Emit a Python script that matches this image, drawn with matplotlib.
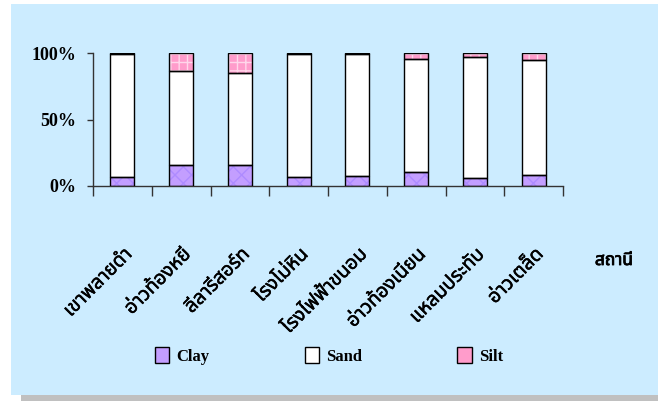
import matplotlib
matplotlib.use('Agg')

import numpy as np
import matplotlib.pyplot as plt
import matplotlib.patheffects as pe
from matplotlib import font_manager, ft2font
from matplotlib.patches import Rectangle, Patch

# station names and composition (%) of sediment
stations = ['เขาพลายดำ', 'อ่าวท้องหยี', 'ลีลารีสอร์ท', 'โรงโม่หิน',
            'โรงไฟฟ้าขนอม', 'อ่าวท้องเนียน', 'แหลมประทับ', 'อ่าวเตล็ด']
clay = [6.6, 15.6, 15.6, 6.6, 7.5, 10.6, 6.3, 8.6]
sand = [92.4, 70.8, 69.7, 92.4, 91.5, 85.1, 90.9, 86.3]
silt = [1.0, 13.6, 14.7, 1.0, 1.0, 4.3, 2.8, 5.1]
yticks = [0, 50, 100]
ytick_labels = ['0%', '50%', '100%']


def find_thai_font():
    """look for any installed font that has thai glyphs"""
    prefer = ['Noto Sans Thai', 'Loma', 'Garuda', 'Norasi', 'Kinnari',
              'Tlwg Typo', 'Sawasdee', 'Umpush', 'Waree', 'Laksaman']
    found = []
    for f in font_manager.fontManager.ttflist:
        try:
            cmap = ft2font.FT2Font(f.fname).get_charmap()
        except Exception:
            continue
        if 0x0E01 in cmap:
            found.append(f.name)
    for p in prefer:
        if p in found:
            return p
    if found:
        return found[0]
    return 'DejaVu Sans'


thai_font = find_thai_font()
serif = 'Liberation Serif'
# slight fake bold for the thai text
thick = [pe.withStroke(linewidth=0.35, foreground='black')]

clay_fill, clay_hatch = '#C39EFF', '#AE8BFF'
silt_fill, silt_hatch = '#FF9CCB', '#FFD6EA'

fig = plt.figure(figsize=(6.58, 4.01), dpi=100)
fig.patch.set_facecolor('white')

W, H = 658.0, 401.0
# grey shadow and blue chart area
fig.patches.append(Rectangle((21 / W, 0), 1 - 21 / W, 6 / H,
                             transform=fig.transFigure, facecolor='#C0C0C0',
                             edgecolor='none', zorder=-2))
fig.patches.append(Rectangle((11 / W, 6 / H), 1 - 11 / W, (395 - 4) / H,
                             transform=fig.transFigure, facecolor='#CCECFF',
                             edgecolor='none', zorder=-1))

ax = fig.add_axes([93 / W, 1 - 186 / H, (563 - 93) / W, (186 - 53) / H])
ax.set_facecolor('none')

x = np.arange(len(stations))
bw = 0.41
clay = np.array(clay)
sand = np.array(sand)
silt = np.array(silt)

plt.rcParams['hatch.linewidth'] = 1.0
# coloured fill with pattern, then black outline on top
ax.bar(x, clay, bw, color=clay_fill, edgecolor=clay_hatch, hatch='xx',
       linewidth=0, zorder=2)
ax.bar(x, sand, bw, bottom=clay, color='white', linewidth=0, zorder=2)
ax.bar(x, silt, bw, bottom=clay + sand, color=silt_fill,
       edgecolor=silt_hatch, hatch='++', linewidth=0, zorder=2)
for vals, bot in [(clay, 0), (sand, clay), (silt, clay + sand)]:
    ax.bar(x, vals, bw, bottom=bot, fill=False, edgecolor='black',
           linewidth=1.0, zorder=3)

ax.set_xlim(-0.5, len(stations) - 0.5)
ax.set_ylim(0, 100)
ax.set_yticks(yticks)
ax.set_yticklabels(ytick_labels, fontfamily=serif, fontweight='bold',
                   fontsize=13)
ax.tick_params(axis='y', length=4, width=1, color='#333333', pad=8)

ax.set_xticks(np.arange(len(stations) + 1) - 0.5)
ax.set_xticklabels([])
ax.tick_params(axis='x', length=7, width=1, color='#333333')
ax.set_xticks(x, minor=True)
ax.set_xticklabels(stations, minor=True, rotation=45, ha='right',
                   va='top', rotation_mode='anchor', fontfamily=thai_font,
                   fontsize=14)
for t in ax.get_xticklabels(minor=True):
    t.set_path_effects(thick)
ax.tick_params(axis='x', which='minor', length=0, pad=42)

for s in ['top', 'right']:
    ax.spines[s].set_visible(False)
for s in ['left', 'bottom']:
    ax.spines[s].set_color('#333333')
    ax.spines[s].set_linewidth(1.0)

fig.text(614 / W, 1 - 260 / H, 'สถานี', ha='center', va='center',
         fontfamily=thai_font, fontsize=12.5,
         path_effects=[pe.withStroke(linewidth=0.6, foreground='black')])

handles = [Patch(facecolor=clay_fill, edgecolor='black', label='Clay'),
           Patch(facecolor='white', edgecolor='black', label='Sand'),
           Patch(facecolor=silt_fill, edgecolor='black', label='Silt')]
fig.legend(handles=handles, loc='center left',
           bbox_to_anchor=(155 / W, 1 - 356 / H), ncol=3, frameon=False,
           borderpad=0, borderaxespad=0,
           handlelength=0.85, handleheight=1.1, handletextpad=0.45,
           columnspacing=5.7,
           prop={'family': serif, 'weight': 'bold', 'size': 12})

fig.savefig('out.png', dpi=100)
